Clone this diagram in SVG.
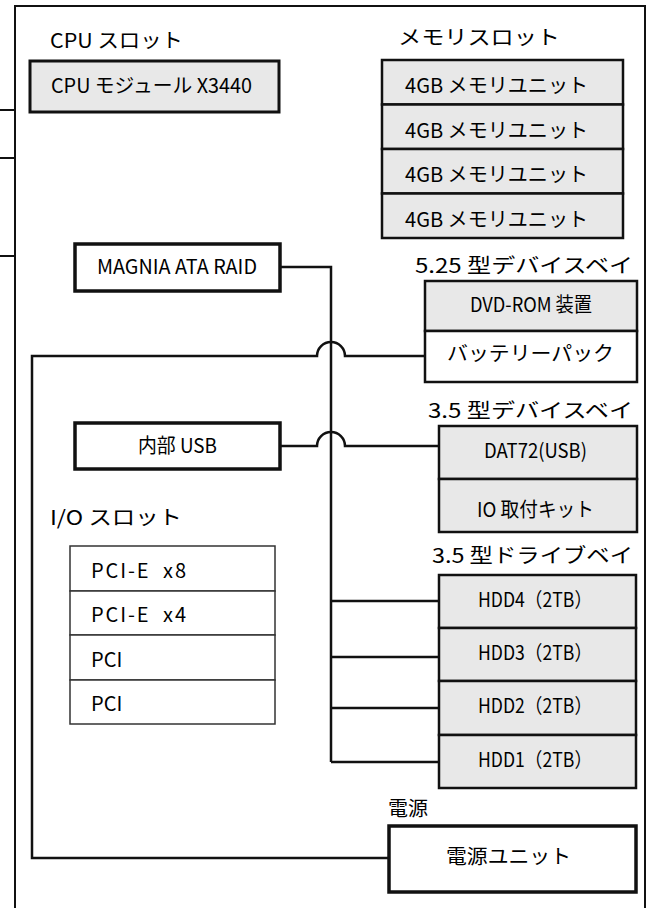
<svg xmlns="http://www.w3.org/2000/svg" width="654" height="908" viewBox="0 0 654 908">
<style>
text{font-family:"Noto Sans CJK JP","Noto Sans",sans-serif;font-size:20px;fill:#000}
.g{fill:#e8e8e8;stroke:#111;stroke-width:2.5}
.w{fill:#fff;stroke:#111;stroke-width:2.5}
.t{fill:#fff;stroke:#111;stroke-width:3.5}
.tg{fill:#e8e8e8;stroke:#111;stroke-width:3}
.p{fill:#fff;stroke:#333;stroke-width:1.5}
.ln{fill:none;stroke:#111;stroke-width:2.5}
</style>
<rect width="654" height="908" fill="#fff"/>
<g id="frame">
<path d="M15 930 V6 H645 V930" fill="none" stroke="#111" stroke-width="2"/>
<path d="M0 110 H15 M0 158 H15 M0 256 H15" stroke="#111" stroke-width="2"/>
</g>
<g id="cpu-slot">
<text x="50" y="48" textLength="133" lengthAdjust="spacingAndGlyphs">CPU スロット</text>
<rect class="tg" x="30" y="61" width="249" height="51"/>
<text x="51" y="93" textLength="201" lengthAdjust="spacingAndGlyphs">CPU モジュール X3440</text>
</g>
<g id="memory-slot">
<text x="398" y="45" textLength="162" lengthAdjust="spacingAndGlyphs">メモリスロット</text>
<rect class="g" x="382" y="60" width="241" height="44.5"/>
<rect class="g" x="382" y="104.5" width="241" height="44.5"/>
<rect class="g" x="382" y="149" width="241" height="44.5"/>
<rect class="g" x="382" y="193.5" width="241" height="44.5"/>
<text x="405" y="93" textLength="183" lengthAdjust="spacingAndGlyphs">4GB メモリユニット</text>
<text x="405" y="138" textLength="183" lengthAdjust="spacingAndGlyphs">4GB メモリユニット</text>
<text x="405" y="182" textLength="183" lengthAdjust="spacingAndGlyphs">4GB メモリユニット</text>
<text x="405" y="227" textLength="183" lengthAdjust="spacingAndGlyphs">4GB メモリユニット</text>
</g>
<g id="raid">
<rect class="t" x="75" y="244" width="205" height="47"/>
<text x="97" y="274" textLength="160" lengthAdjust="spacingAndGlyphs">MAGNIA ATA RAID</text>
</g>
<g id="bay525">
<text x="415" y="273" textLength="218" lengthAdjust="spacingAndGlyphs">5.25 型デバイスベイ</text>
<rect class="g" x="425" y="281" width="212" height="50"/>
<rect class="w" x="425" y="331" width="212" height="51"/>
<text x="470" y="312" textLength="122" lengthAdjust="spacingAndGlyphs">DVD-ROM 装置</text>
<text x="447" y="361" textLength="167" lengthAdjust="spacingAndGlyphs">バッテリーパック</text>
</g>
<g id="usb">
<rect class="t" x="75" y="423" width="205" height="46"/>
<text x="138" y="453" textLength="79" lengthAdjust="spacingAndGlyphs">内部 USB</text>
</g>
<g id="bay35">
<text x="428" y="418" textLength="205" lengthAdjust="spacingAndGlyphs">3.5 型デバイスベイ</text>
<rect class="g" x="439" y="426" width="198" height="53"/>
<rect class="g" x="439" y="479" width="198" height="53"/>
<text x="484" y="458" textLength="103" lengthAdjust="spacingAndGlyphs">DAT72(USB)</text>
<text x="477" y="517" textLength="117" lengthAdjust="spacingAndGlyphs">IO 取付キット</text>
</g>
<g id="io-slot">
<text x="50" y="525" textLength="132" lengthAdjust="spacingAndGlyphs">I/O スロット</text>
<rect class="p" x="70" y="546" width="205" height="45"/>
<rect class="p" x="70" y="591" width="205" height="44"/>
<rect class="p" x="70" y="635" width="205" height="45"/>
<rect class="p" x="70" y="680" width="205" height="44"/>
<text x="91" y="578" xml:space="preserve" textLength="95" lengthAdjust="spacing">PCI-E  x8</text>
<text x="91" y="622" xml:space="preserve" textLength="95" lengthAdjust="spacing">PCI-E  x4</text>
<text x="91" y="667">PCI</text>
<text x="91" y="711">PCI</text>
</g>
<g id="drive-bay">
<text x="432" y="563" textLength="201" lengthAdjust="spacingAndGlyphs">3.5 型ドライブベイ</text>
<rect class="g" x="439" y="575" width="197" height="53"/>
<rect class="g" x="439" y="628" width="197" height="53"/>
<rect class="g" x="439" y="681" width="197" height="54"/>
<rect class="g" x="439" y="735" width="197" height="53"/>
<text x="478" y="607" textLength="114" lengthAdjust="spacingAndGlyphs">HDD4（2TB）</text>
<text x="478" y="660" textLength="114" lengthAdjust="spacingAndGlyphs">HDD3（2TB）</text>
<text x="478" y="713" textLength="114" lengthAdjust="spacingAndGlyphs">HDD2（2TB）</text>
<text x="478" y="767" textLength="114" lengthAdjust="spacingAndGlyphs">HDD1（2TB）</text>
</g>
<g id="power">
<text x="388" y="816" textLength="40" lengthAdjust="spacingAndGlyphs">電源</text>
<rect class="t" x="389" y="826" width="247" height="66"/>
<text x="446" y="864" textLength="125" lengthAdjust="spacingAndGlyphs">電源ユニット</text>
</g>
<g id="connectors">
<path class="ln" d="M280 267 H331 V762"/>
<path class="ln" d="M331 601 H439 M331 657 H439 M331 708 H439 M331 762 H439"/>
<path class="ln" d="M425 356 H345 A14 14 0 0 0 317 356 H32 V858 H389"/>
<path class="ln" d="M280 446 H317 A14 14 0 0 1 345 446 H439"/>
</g>
</svg>
